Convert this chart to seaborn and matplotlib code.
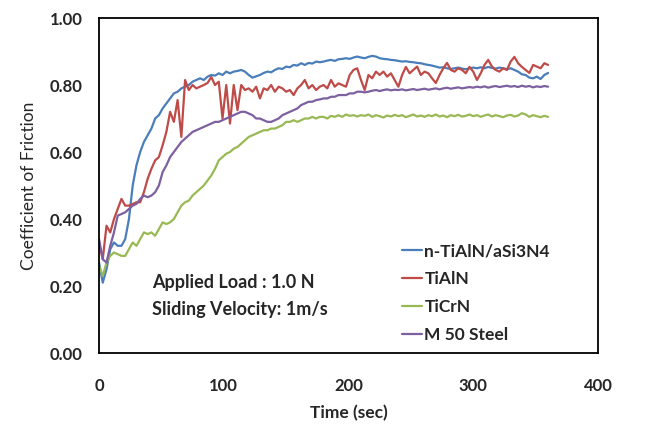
import numpy as np
import pandas as pd
import seaborn as sns
import matplotlib
matplotlib.use("Agg")
import matplotlib.pyplot as plt

# sample times (sec), every 3 s from 0 to 360
time_sec = np.arange(0, 361, 3)

n_tialn_si3n4 = [
    0.27, 0.21, 0.25, 0.31, 0.33, 0.32, 0.32, 0.34, 0.40, 0.50,
    0.56, 0.60, 0.63, 0.65, 0.67, 0.70, 0.71, 0.73, 0.745, 0.76,
    0.775, 0.78, 0.79, 0.795, 0.80, 0.81, 0.815, 0.82, 0.815, 0.825,
    0.83, 0.828, 0.835, 0.83, 0.84, 0.835, 0.84, 0.842, 0.845, 0.84,
    0.83, 0.822, 0.826, 0.83, 0.836, 0.84, 0.838, 0.845, 0.85, 0.848,
    0.855, 0.853, 0.86, 0.858, 0.865, 0.86, 0.866, 0.864, 0.87, 0.868,
    0.87, 0.873, 0.875, 0.872, 0.877, 0.878, 0.88, 0.878, 0.882, 0.885,
    0.882, 0.88, 0.884, 0.887, 0.885, 0.88, 0.878, 0.877, 0.875, 0.874,
    0.872, 0.87, 0.871, 0.869, 0.868, 0.866, 0.865, 0.862, 0.86, 0.858,
    0.855, 0.852, 0.853, 0.85, 0.848, 0.85, 0.852, 0.849, 0.847, 0.85,
    0.852, 0.85, 0.853, 0.85, 0.854, 0.851, 0.849, 0.852, 0.85, 0.847,
    0.85, 0.845, 0.84, 0.832, 0.83, 0.822, 0.82, 0.825, 0.818, 0.83,
    0.836,
]

tialn = [
    0.33, 0.28, 0.38, 0.36, 0.40, 0.43, 0.46, 0.44, 0.44, 0.445,
    0.45, 0.45, 0.48, 0.52, 0.55, 0.575, 0.585, 0.62, 0.66, 0.72,
    0.69, 0.755, 0.645, 0.815, 0.785, 0.80, 0.79, 0.795, 0.80, 0.806,
    0.824, 0.80, 0.81, 0.70, 0.80, 0.685, 0.80, 0.725, 0.80, 0.785,
    0.79, 0.78, 0.795, 0.76, 0.79, 0.785, 0.80, 0.78, 0.795, 0.79,
    0.78, 0.785, 0.77, 0.79, 0.80, 0.815, 0.79, 0.80, 0.785, 0.795,
    0.80, 0.79, 0.815, 0.795, 0.805, 0.80, 0.795, 0.83, 0.845, 0.85,
    0.815, 0.785, 0.83, 0.82, 0.84, 0.83, 0.84, 0.825, 0.835, 0.815,
    0.795, 0.83, 0.854, 0.835, 0.845, 0.855, 0.83, 0.84, 0.835, 0.82,
    0.806, 0.83, 0.85, 0.866, 0.845, 0.84, 0.85, 0.845, 0.835, 0.854,
    0.84, 0.815, 0.835, 0.86, 0.875, 0.855, 0.845, 0.84, 0.85, 0.845,
    0.87, 0.884, 0.865, 0.854, 0.845, 0.836, 0.86, 0.855, 0.85, 0.865,
    0.86,
]

ticrn = [
    0.26, 0.23, 0.27, 0.29, 0.30, 0.295, 0.29, 0.29, 0.31, 0.33,
    0.32, 0.34, 0.36, 0.355, 0.36, 0.35, 0.37, 0.39, 0.385, 0.39,
    0.40, 0.42, 0.44, 0.45, 0.455, 0.47, 0.48, 0.49, 0.50, 0.515,
    0.53, 0.55, 0.575, 0.585, 0.595, 0.60, 0.61, 0.615, 0.625, 0.635,
    0.645, 0.65, 0.655, 0.66, 0.665, 0.665, 0.67, 0.67, 0.675, 0.68,
    0.69, 0.69, 0.695, 0.69, 0.695, 0.70, 0.70, 0.705, 0.70, 0.705,
    0.705, 0.70, 0.708, 0.705, 0.71, 0.705, 0.712, 0.708, 0.71, 0.706,
    0.71, 0.708, 0.712, 0.705, 0.71, 0.707, 0.703, 0.709, 0.706, 0.711,
    0.707, 0.71, 0.704, 0.708, 0.712, 0.706, 0.709, 0.705, 0.71, 0.707,
    0.712, 0.706, 0.709, 0.704, 0.71, 0.707, 0.711, 0.706, 0.708, 0.712,
    0.707, 0.71, 0.705, 0.709, 0.712, 0.706, 0.71, 0.707, 0.704, 0.709,
    0.711, 0.706, 0.709, 0.716, 0.712, 0.705, 0.71, 0.707, 0.704, 0.708,
    0.705,
]

m50_steel = [
    0.34, 0.28, 0.27, 0.32, 0.36, 0.41, 0.415, 0.42, 0.43, 0.44,
    0.445, 0.46, 0.47, 0.465, 0.47, 0.48, 0.50, 0.54, 0.56, 0.585,
    0.60, 0.615, 0.63, 0.64, 0.65, 0.66, 0.665, 0.67, 0.675, 0.68,
    0.685, 0.69, 0.69, 0.695, 0.70, 0.705, 0.71, 0.715, 0.72, 0.72,
    0.715, 0.71, 0.70, 0.70, 0.695, 0.69, 0.69, 0.695, 0.70, 0.71,
    0.715, 0.72, 0.725, 0.73, 0.74, 0.745, 0.75, 0.75, 0.755, 0.757,
    0.76, 0.76, 0.765, 0.765, 0.77, 0.77, 0.77, 0.775, 0.775, 0.78,
    0.78, 0.778, 0.78, 0.783, 0.785, 0.782, 0.785, 0.787, 0.784, 0.786,
    0.785, 0.787, 0.784, 0.786, 0.788, 0.785, 0.787, 0.789, 0.786, 0.788,
    0.79, 0.787, 0.79, 0.792, 0.789, 0.791, 0.793, 0.79, 0.792, 0.794,
    0.792, 0.795, 0.793, 0.796, 0.792, 0.795, 0.797, 0.794, 0.796, 0.798,
    0.795, 0.797, 0.794, 0.798, 0.795, 0.797, 0.793, 0.796, 0.794, 0.797,
    0.795,
]

series_names = ["n-TiAlN/aSi3N4", "TiAlN", "TiCrN", "M 50 Steel"]
series_values = [n_tialn_si3n4, tialn, ticrn, m50_steel]
series_colors = ["#4A7EBB", "#BE4B48", "#98B954", "#7D60A0"]

x_ticks = [0, 100, 200, 300, 400]
y_ticks = [0.0, 0.2, 0.4, 0.6, 0.8, 1.0]

df = pd.concat(
    [pd.DataFrame({"Time": time_sec, "COF": vals, "Coating": name})
     for name, vals in zip(series_names, series_values)],
    ignore_index=True,
)

sns.set_style("white")
plt.rcParams["font.family"] = ["Lato", "DejaVu Sans"]

fig = plt.figure(figsize=(6.48, 4.25), dpi=100)
ax = fig.add_axes([0.1528, 0.1694, 0.77, 0.7882])

sns.lineplot(data=df, x="Time", y="COF", hue="Coating", hue_order=series_names,
             palette=series_colors, linewidth=1.6, ax=ax, legend=True)

ax.set_xlim(0, 400)
ax.set_ylim(0, 1.0)
ax.set_xticks(x_ticks)
ax.set_yticks(y_ticks)
ax.set_xticklabels([str(v) for v in x_ticks], fontweight="bold", fontsize=12)
ax.set_yticklabels([f"{v:.2f}" for v in y_ticks], fontweight="bold", fontsize=12)
ax.tick_params(axis="both", length=0)
ax.tick_params(axis="y", pad=12)
ax.tick_params(axis="x", pad=18)

ax.set_xlabel("Time (sec)", fontweight="bold", fontsize=12.5, labelpad=8)
ax.set_ylabel("Coefficient of Friction", fontsize=12.5, labelpad=9)

for sp in ax.spines.values():
    sp.set_color("black")
    sp.set_linewidth(1.3)

ax.text(0.107, 0.21, "Applied Load : 1.0 N", transform=ax.transAxes,
        fontsize=13, fontweight="bold", va="center", ha="left")
ax.text(0.107, 0.13, "Sliding Velocity: 1m/s", transform=ax.transAxes,
        fontsize=13, fontweight="bold", va="center", ha="left")

leg = ax.legend(loc="upper left", bbox_to_anchor=(0.575, 0.375), frameon=False,
                handlelength=1.2, handletextpad=0.12, labelspacing=0.7,
                prop={"weight": "bold", "size": 12.5})
for line in leg.get_lines():
    line.set_linewidth(1.6)

fig.savefig("out.png", dpi=100)
